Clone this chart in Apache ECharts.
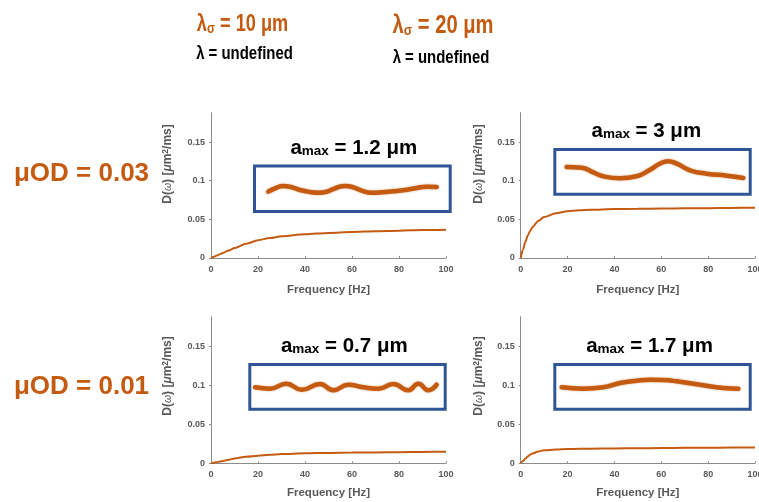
<!DOCTYPE html>
<html>
<head>
<meta charset="utf-8">
<script src="https://cdn.jsdelivr.net/npm/echarts@6/dist/echarts.min.js"></script>
<style>
  html, body { margin: 0; padding: 0; background: #fff; }
  #c { width: 759px; height: 502px; }
</style>
</head>
<body>
<div id="c"></div>
<script>
// ---- data ----
// frequency samples (Hz) shared by the four spectra
const freqHz = [0, 1, 2, 3, 4, 5, 7.5, 10, 15, 20, 25, 30, 40, 50, 60, 70, 80, 90, 100];

// D(omega) in um^2/ms
const dSigma10Od03 = [0, 0.0013, 0.0026, 0.0039, 0.0052, 0.0065, 0.0097, 0.0128, 0.0185, 0.023, 0.0258, 0.028, 0.0307, 0.0325, 0.0337, 0.0347, 0.0354, 0.0361, 0.0367];
const dSigma20Od03 = [0, 0.011, 0.021, 0.029, 0.035, 0.04, 0.048, 0.053, 0.058, 0.0605, 0.0617, 0.0625, 0.0633, 0.0637, 0.064, 0.0643, 0.0645, 0.0648, 0.065];
const dSigma10Od01 = [0, 0.0006, 0.0012, 0.0018, 0.0024, 0.003, 0.0046, 0.0062, 0.0085, 0.0098, 0.011, 0.0118, 0.0128, 0.0133, 0.0137, 0.014, 0.0143, 0.0146, 0.0148];
const dSigma20Od01 = [0, 0.003, 0.006, 0.0088, 0.011, 0.0125, 0.0152, 0.0166, 0.0178, 0.0183, 0.0186, 0.0188, 0.019, 0.0193, 0.0195, 0.0198, 0.02, 0.0202, 0.0203];

// axon profiles: [position along fibre (%), radius deviation]
const profileA12 = [[0,-2.7],[4,0.7],[8.9,3],[13.9,1.7],[18.8,-1],[24.8,-3],[29.7,-3.7],[34.7,-2.7],[39.6,0.7],[45.5,3],[50.5,1.7],[55.5,-1.7],[61.4,-3.7],[67.3,-3.3],[74.2,-2.3],[81.2,-1],[88.1,1],[94.1,2.3],[100,2]];
const profileA3  = [[0,4.9],[8.5,4.2],[15.1,-0.4],[20.7,-4.4],[30.2,-6.4],[39.6,-4.4],[47.2,2.2],[52.8,8.2],[57.5,10.6],[62.3,8.2],[69.8,1.6],[79.3,-1.8],[90.6,-3.8],[100,-6.1]];
const profileA07 = [[0,-0.4],[8.3,-1.8],[17.2,3.2],[25.7,-2.8],[35.8,2.9],[43.1,-3.4],[51.4,2.2],[59.6,-0.4],[67.9,-1.8],[76.1,2.9],[84.4,-3.4],[89.9,3.2],[95.4,-3.4],[100,2.2]];
const profileA17 = [[0,-0.4],[12.3,-1.8],[23.6,-0.4],[33,3.9],[42.5,6.2],[50,7.2],[57.5,6.9],[65.1,5.6],[78.3,2.2],[91.5,-1.1],[100,-1.8]];

// text
const colHeads = ['10', '20'];
const rowHeads = ['0.03', '0.01'];
const amaxLabels = ['1.2', '3', '0.7', '1.7'];
const xTicks = [0, 20, 40, 60, 80, 100];
const yTicks = [0, 0.05, 0.1, 0.15];

// ---- styling / layout ----
const ORANGE = '#C55A11';
const BLUE = '#2F5597';
const GRAY = '#595959';
const AXIS = '#8c8c8c';
const SANS = '"Liberation Sans", Arial, sans-serif';

const panels = [
  { grid: { left: 211, top: 112.7, width: 235, height: 145.3 }, d: dSigma10Od03, nameGap: 26,
    inset: { left: 254.5, top: 166, width: 195.7, height: 45.5 }, prof: profileA12, xr: [-8.2, 108], yr: [-22.5, 23],
    label: [353.8, 148], yLab: [168, 164] },
  { grid: { left: 520.7, top: 112.7, width: 234.3, height: 145.3 }, d: dSigma20Od03, nameGap: 26,
    inset: { left: 554.8, top: 149.5, width: 195.4, height: 44.7 }, prof: profileA3, xr: [-6.7, 103.9], yr: [-22.3, 22.4],
    label: [646.3, 131], yLab: [479, 164] },
  { grid: { left: 211, top: 316.7, width: 235, height: 146.6 }, d: dSigma10Od01, nameGap: 23.5,
    inset: { left: 249.8, top: 364.5, width: 195.4, height: 44.7 }, prof: profileA07, xr: [-2.9, 104.7], yr: [-22.3, 22.4],
    label: [344.3, 346.7], yLab: [168, 376] },
  { grid: { left: 520.7, top: 316.7, width: 234.3, height: 146.6 }, d: dSigma20Od01, nameGap: 23.5,
    inset: { left: 554.8, top: 364.5, width: 195.4, height: 44.7 }, prof: profileA17, xr: [-3.9, 106.7], yr: [-22.3, 22.4],
    label: [649.5, 346.7], yLab: [479, 376] }
];

const grids = [], xAxes = [], yAxes = [], series = [], graphics = [];

panels.forEach((p, i) => {
  // main spectrum
  grids.push(Object.assign({ containLabel: false, outerBoundsMode: 'none' }, p.grid));
  xAxes.push({
    type: 'value', gridIndex: i, min: xTicks[0], max: xTicks[xTicks.length - 1], interval: xTicks[1] - xTicks[0],
    name: 'Frequency [Hz]', nameLocation: 'middle', nameGap: p.nameGap,
    nameTextStyle: { color: GRAY, fontFamily: SANS, fontWeight: 'bold', fontSize: 11.5 },
    axisLine: { lineStyle: { color: AXIS, width: 1 } },
    axisTick: { show: true, inside: true, length: 2, lineStyle: { color: AXIS } },
    axisLabel: { color: GRAY, fontFamily: SANS, fontWeight: 'bold', fontSize: 9, margin: 7, hideOverlap: false },
    splitLine: { show: false }
  });
  yAxes.push({
    type: 'value', gridIndex: i, min: yTicks[0], max: 0.188, interval: yTicks[1] - yTicks[0],
    axisLine: { show: true, lineStyle: { color: AXIS, width: 1 } },
    axisTick: { show: true, length: 2, lineStyle: { color: AXIS } },
    axisLabel: { color: GRAY, fontFamily: SANS, fontWeight: 'bold', fontSize: 9, margin: 6, showMaxLabel: false,
      formatter: v => (yTicks.some(t => Math.abs(t - v) < 1e-9) ? String(v) : '') },
    splitLine: { show: false }
  });
  series.push({
    type: 'line', xAxisIndex: i, yAxisIndex: i, showSymbol: false, smooth: 0.3, smoothMonotone: 'x',
    data: freqHz.map((f, k) => [f, p.d[k]]),
    lineStyle: { color: ORANGE, width: 2 }, silent: true
  });
});

panels.forEach((p, i) => {
  // inset with the axon profile
  const gi = 4 + i;
  grids.push(Object.assign({ show: true, borderColor: BLUE, borderWidth: 3, backgroundColor: 'transparent', outerBoundsMode: 'none' }, p.inset));
  xAxes.push({ type: 'value', gridIndex: gi, min: p.xr[0], max: p.xr[1], show: false });
  yAxes.push({ type: 'value', gridIndex: gi, min: p.yr[0], max: p.yr[1], show: false });
  series.push({
    type: 'line', xAxisIndex: gi, yAxisIndex: gi, showSymbol: false, smooth: 0.5,
    data: p.prof,
    lineStyle: { color: ORANGE, width: 4.5, cap: 'round', shadowBlur: 2, shadowColor: 'rgba(197,90,17,0.6)' }, silent: true
  });

  // a_max label
  graphics.push({
    type: 'text', x: p.label[0], y: p.label[1],
    style: {
      text: '{a|a}{s|max}{a| = ' + amaxLabels[i] + ' μm}',
      align: 'center', verticalAlign: 'middle',
      rich: {
        a: { fontFamily: SANS, fontWeight: 'bold', fontSize: 20.5, fill: '#000', lineHeight: 20, verticalAlign: 'middle' },
        s: { fontFamily: SANS, fontWeight: 'bold', fontSize: 13.5, fill: '#000', lineHeight: 4, verticalAlign: 'bottom' }
      }
    }
  });

  // y-axis title
  graphics.push({
    type: 'text', x: p.yLab[0], y: p.yLab[1], rotation: Math.PI / 2,
    style: {
      text: '{t|D(}{w|ω}{t|) [}{u|μ}{t|m}{sup|2}{t|/ms]}',
      align: 'center', verticalAlign: 'middle',
      rich: {
        t: { fontFamily: SANS, fontWeight: 'bold', fontSize: 12, fill: GRAY, lineHeight: 13 },
        w: { fontFamily: SANS, fontStyle: 'italic', fontSize: 10.5, fill: GRAY, lineHeight: 13 },
        u: { fontFamily: SANS, fontStyle: 'italic', fontWeight: 'bold', fontSize: 12, fill: GRAY, lineHeight: 13 },
        sup: { fontFamily: SANS, fontWeight: 'bold', fontSize: 8.5, fill: GRAY, lineHeight: 4, verticalAlign: 'top' }
      }
    }
  });
});

// column headers (condensed bold face)
const colX = [242.5, 443];
const colY = [[24.5, 54.5], [26.5, 58]];
const colSize = [24, 25];
const colScale = [0.757, 0.806];
colHeads.forEach((h, j) => {
  graphics.push({
    type: 'text', x: colX[j], y: colY[j][0], scaleX: colScale[j],
    style: {
      text: '{a|λ}{s|σ}{a| = ' + h + ' μm}', align: 'center', verticalAlign: 'middle',
      rich: {
        a: { fontFamily: SANS, fontWeight: 'bold', fontSize: colSize[j], fill: ORANGE, lineHeight: 24, verticalAlign: 'middle' },
        s: { fontFamily: SANS, fontWeight: 'bold', fontSize: 15.5, fill: ORANGE, lineHeight: 6, verticalAlign: 'bottom' }
      }
    }
  });
  graphics.push({
    type: 'text', x: colX[j] + (j ? -2 : 2), y: colY[j][1], scaleX: 0.83,
    style: { text: 'λ = undefined', align: 'center', verticalAlign: 'middle',
      fontFamily: SANS, fontWeight: 'bold', fontSize: 18, fill: '#000' }
  });
});

// row headers
const rowY = [174, 386.7];
rowHeads.forEach((h, j) => {
  graphics.push({
    type: 'text', x: 81.5, y: rowY[j],
    style: { text: 'μOD = ' + h, align: 'center', verticalAlign: 'middle',
      fontFamily: SANS, fontWeight: 'bold', fontSize: 26, fill: ORANGE }
  });
});

const chart = echarts.init(document.getElementById('c'), null, { renderer: 'canvas' });
chart.setOption({
  animation: false,
  backgroundColor: '#fff',
  grid: grids, xAxis: xAxes, yAxis: yAxes, series: series,
  graphic: graphics
});
</script>
</body>
</html>
